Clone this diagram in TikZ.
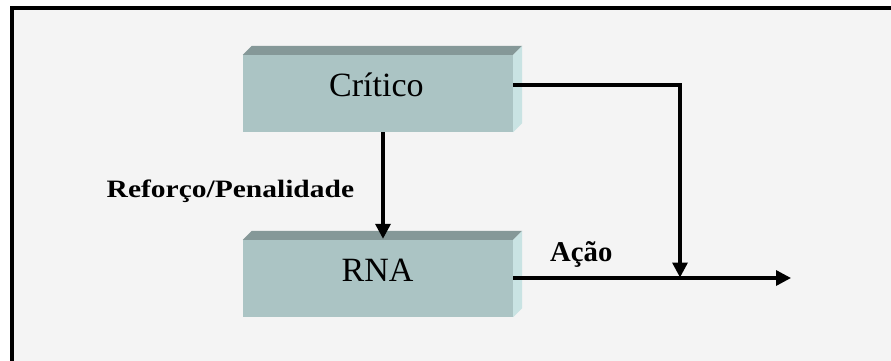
\documentclass[tikz,border=0pt]{standalone}
\usepackage{fontspec}
\setmainfont{Liberation Serif}
\usetikzlibrary{arrows.meta,calc}
\definecolor{bgc}{HTML}{F4F4F4}
\definecolor{topc}{HTML}{859898}
\definecolor{frontc}{HTML}{ABC4C4}
\definecolor{sidec}{HTML}{C9E3E3}
\tikzset{
  face/.style={minimum width=270pt,minimum height=77pt,inner sep=0pt,fill=frontc,draw=none},
  boxlabel/.style={anchor=base west,inner sep=0pt,font=\fontsize{34}{37}\selectfont},
  steplabel/.style={anchor=base west,inner sep=0pt,font=\bfseries\fontsize{28.7}{32}\selectfont},
  arr/.style={line width=3.3pt,-{Triangle[length=15pt,width=15pt]}},
}
\newcommand{\boxthreed}[1]{%
  \fill[topc] (#1.north west) -- ++(9pt,9pt) -- ($(#1.north east)+(9pt,9pt)$) -- (#1.north east) -- cycle;
  \fill[sidec] (#1.north east) -- ++(9pt,9pt) -- ($(#1.south east)+(9pt,9pt)$) -- (#1.south east) -- cycle;
}
\begin{document}
\begin{tikzpicture}[x=1pt,y=-1pt]
\useasboundingbox (0,0) rectangle (891,360);
\fill[white] (0,0) rectangle (891,360);
\draw[line width=4.5pt,fill=bgc] (12,8) rectangle (905,380);
% boxes
\node[face] (crit) at (378,93.5) {};
\boxthreed{crit}
\node[face] (rna) at (378,278.5) {};
\boxthreed{rna}
\node[boxlabel] (critt) at (329,96.5) {Crítico};
\node[boxlabel] (rnat) at (341.5,281.5) {RNA};
% labels
\node[steplabel,font=\bfseries\fontsize{25}{28}\selectfont] (refl) at (106.5,197) {\scalebox{1.18}[1]{Reforço/Penalidade}};
\node[steplabel] (acl) at (550,261.5) {Ação};
% connectors
\coordinate (corner) at (680,85);
\coordinate (join) at (680,278);
\coordinate (outp) at (791,278);
\draw[arr] ($(crit.south)+(5,0)$) -- ($(rna.north)+(5,-1)$);
\draw[arr] ($(crit.east)+(0,-8.5)$) -- (corner) -- ($(join)+(0,-0.5)$);
\draw[arr] (rna.east |- join) -- (outp);
\end{tikzpicture}
\end{document}
